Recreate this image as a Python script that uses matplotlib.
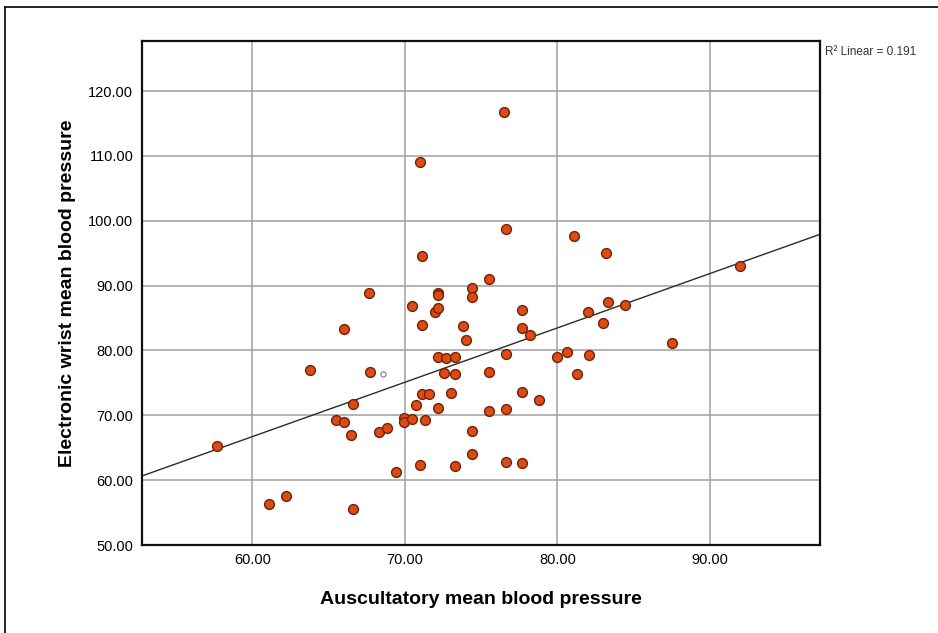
import numpy as np
import matplotlib
matplotlib.use("Agg")
import matplotlib.pyplot as plt
from matplotlib.lines import Line2D

plt.rcParams['font.family'] = ['Liberation Sans', 'DejaVu Sans']

# Auscultatory (x) vs electronic wrist (y) mean blood pressure
ausc = [57.7, 61.1, 62.2, 63.8, 65.5, 66.0, 66.0, 66.45, 66.6, 66.6,
        67.65, 67.7, 68.3, 68.8, 69.4, 69.95, 69.95, 70.45, 70.5, 70.7,
        71.0, 71.0, 71.1, 71.1, 71.1, 71.3, 71.6, 72.2, 72.0, 72.2,
        72.2, 72.2, 72.2, 72.7, 72.6, 73.0, 73.3, 73.3, 73.3, 73.8,
        74.0, 74.4, 74.4, 74.4, 74.4, 75.5, 75.5, 75.5, 76.5, 76.6,
        76.6, 76.6, 76.6, 77.7, 77.7, 77.7, 77.7, 78.2, 78.8, 80.0,
        80.6, 81.1, 81.3, 82.0, 82.1, 83.0, 83.2, 83.3, 84.4, 87.5,
        92.0]
wrist = [65.3, 56.4, 57.5, 77.0, 69.3, 69.0, 83.3, 66.9, 71.7, 55.5,
         88.8, 76.7, 67.5, 68.0, 61.2, 69.6, 69.0, 69.4, 86.8, 71.6,
         109.0, 62.4, 94.5, 84.0, 73.3, 69.3, 73.3, 71.2, 85.9, 86.5,
         88.9, 88.6, 79.0, 78.8, 76.6, 73.4, 79.0, 76.3, 62.2, 83.7,
         81.6, 89.6, 88.3, 67.6, 64.1, 91.0, 76.7, 70.7, 116.7, 98.8,
         79.5, 71.0, 62.8, 86.2, 83.4, 73.6, 62.7, 82.4, 72.4, 79.0,
         79.7, 97.6, 76.3, 86.0, 79.3, 84.3, 95.0, 87.4, 87.0, 81.2,
         93.0]
# one point drawn as a small open circle
open_x = [68.6]
open_y = [76.35]

# fit line
fit_slope = 0.8385
fit_intercept = 16.4
r2_text = "R\u00b2 Linear = 0.191"

x_ticks = [60, 70, 80, 90]
y_ticks = [50, 60, 70, 80, 90, 100, 110, 120]
x_lim = (52.75, 97.2)
y_lim = (50, 127.7)

fig = plt.figure(figsize=(9.38, 6.33), dpi=100)
ax = fig.add_axes([0.151, 0.139, 0.723, 0.796])

# outer frame (cropped at right and bottom)
fig.add_artist(Line2D([5 / 938, 1.0], [1 - 7 / 633, 1 - 7 / 633],
                      transform=fig.transFigure, color='black', lw=1.2))
fig.add_artist(Line2D([5 / 938, 5 / 938], [0.0, 1 - 7 / 633],
                      transform=fig.transFigure, color='black', lw=1.2))

ax.set_xlim(*x_lim)
ax.set_ylim(*y_lim)
ax.set_xticks(x_ticks)
ax.set_yticks(y_ticks)
ax.set_xticklabels(['%.2f' % v for v in x_ticks])
ax.set_yticklabels(['%.2f' % v for v in y_ticks])
ax.grid(True, color='#a0a0a0', lw=1.1)
ax.set_axisbelow(True)
ax.tick_params(length=0, labelsize=10.5, pad=6, colors='black')
for s in ax.spines.values():
    s.set_linewidth(1.6)
    s.set_color('#111111')

xx = np.array(x_lim)
ax.plot(xx, fit_intercept + fit_slope * xx, color='#2a2a2a', lw=1.0, zorder=2)

ax.scatter(ausc, wrist, s=50, c='#de4a14', edgecolors='#6e2308',
           linewidths=1.0, zorder=3)
ax.scatter(open_x, open_y, s=14, facecolors='white', edgecolors='#7080a0',
           linewidths=0.8, zorder=3)

ax.set_xlabel('Auscultatory mean blood pressure', fontsize=14,
              fontweight='bold', labelpad=17)
ax.set_ylabel('Electronic wrist mean blood pressure', fontsize=14,
              fontweight='bold', labelpad=9)

fig.text(825 / 938, 1 - 52 / 633, r2_text, fontsize=8.5, color='#333333',
         va='center', ha='left')

fig.savefig('out.png', dpi=100)
